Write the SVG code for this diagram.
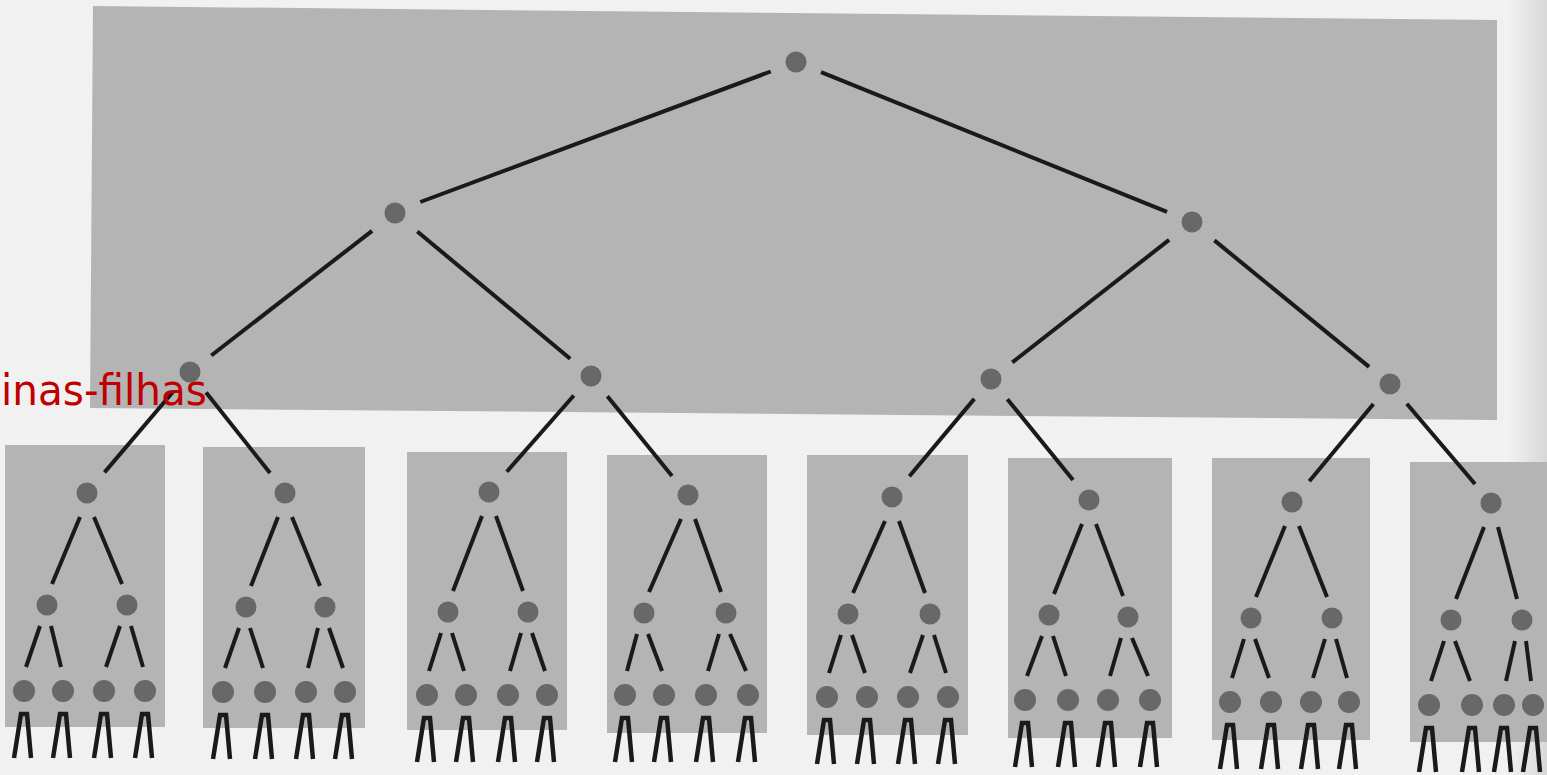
<svg xmlns="http://www.w3.org/2000/svg" width="1547" height="775" viewBox="0 0 1547 775">
<defs>
<linearGradient id="edge" x1="0" y1="0" x2="1" y2="0">
<stop offset="0" stop-color="#f3f3f3"/>
<stop offset="1" stop-color="#d8d8d8"/>
</linearGradient>
</defs>
<style>
.box{fill:#b4b4b4}
.n{fill:#686868}
.c line{stroke:#1a1a1a;stroke-width:4;stroke-linecap:butt}
.c path{fill:none;stroke:#1a1a1a;stroke-width:4.5;stroke-linejoin:miter}
.lbl{font-family:"DejaVu Sans",sans-serif;font-size:43px;fill:#c00000}
</style>
<rect x="0" y="0" width="1547" height="775" fill="#f1f1f1"/>
<rect x="1505" y="0" width="42" height="775" fill="url(#edge)"/>
<g id="boxes">
<polygon id="master-box" class="box" points="93,6 1497,20 1497,420 90,408"/>
<rect id="box1" class="box" x="5" y="445" width="160" height="282"/>
<rect id="box2" class="box" x="203" y="447" width="162" height="281"/>
<rect id="box3" class="box" x="407" y="452" width="160" height="278"/>
<rect id="box4" class="box" x="607" y="455" width="160" height="278"/>
<rect id="box5" class="box" x="807" y="455" width="161" height="280"/>
<rect id="box6" class="box" x="1008" y="458" width="164" height="280"/>
<rect id="box7" class="box" x="1212" y="458" width="158" height="282"/>
<rect id="box8" class="box" x="1410" y="462" width="137" height="280"/>
</g>
<g id="connectors" class="c">
<line x1="770.7" y1="71.5" x2="420.3" y2="202"/>
<line x1="821" y1="72.1" x2="1167" y2="211.9"/>
<line x1="372.1" y1="230.8" x2="211.3" y2="355.5"/>
<line x1="417.3" y1="231.5" x2="570.2" y2="358.7"/>
<line x1="1169.1" y1="239.9" x2="1012.3" y2="362.4"/>
<line x1="1214.4" y1="240.4" x2="1369.1" y2="366.9"/>
<line x1="173.1" y1="391.8" x2="104.5" y2="472.4"/>
<line x1="206.1" y1="392.5" x2="270" y2="473"/>
<line x1="573.8" y1="395.5" x2="506.8" y2="471.7"/>
<line x1="607.4" y1="396.2" x2="672" y2="476"/>
<line x1="974.3" y1="398.9" x2="909.4" y2="476.3"/>
<line x1="1007.4" y1="399.2" x2="1073" y2="480"/>
<line x1="1373.4" y1="404" x2="1309.3" y2="481.2"/>
<line x1="1406.8" y1="403.8" x2="1475" y2="484"/>
<!-- box1 -->
<line x1="80" y1="517" x2="52" y2="584"/><line x1="94" y1="517" x2="122" y2="584"/>
<line x1="40" y1="626" x2="26" y2="667"/><line x1="51" y1="626" x2="61" y2="667"/>
<line x1="120" y1="626" x2="106" y2="667"/><line x1="131" y1="626" x2="143" y2="667"/>
<!-- box2 -->
<line x1="278" y1="517" x2="251" y2="586"/><line x1="292" y1="517" x2="320" y2="586"/>
<line x1="239" y1="628" x2="225" y2="668"/><line x1="250" y1="628" x2="263" y2="668"/>
<line x1="318" y1="628" x2="308" y2="668"/><line x1="329" y1="628" x2="343" y2="668"/>
<!-- box3 -->
<line x1="482" y1="516" x2="453" y2="591"/><line x1="496" y1="516" x2="523" y2="591"/>
<line x1="441" y1="633" x2="429" y2="671"/><line x1="452" y1="633" x2="464" y2="671"/>
<line x1="521" y1="633" x2="510" y2="671"/><line x1="532" y1="633" x2="545" y2="671"/>
<!-- box4 -->
<line x1="681" y1="519" x2="649" y2="592"/><line x1="695" y1="519" x2="721" y2="592"/>
<line x1="637" y1="634" x2="627" y2="671"/><line x1="648" y1="634" x2="662" y2="671"/>
<line x1="719" y1="634" x2="708" y2="671"/><line x1="730" y1="634" x2="746" y2="671"/>
<!-- box5 -->
<line x1="885" y1="521" x2="853" y2="593"/><line x1="899" y1="521" x2="925" y2="593"/>
<line x1="841" y1="635" x2="829" y2="673"/><line x1="852" y1="635" x2="865" y2="673"/>
<line x1="923" y1="635" x2="910" y2="673"/><line x1="934" y1="635" x2="946" y2="673"/>
<!-- box6 -->
<line x1="1082" y1="524" x2="1054" y2="594"/><line x1="1096" y1="524" x2="1123" y2="596"/>
<line x1="1042" y1="636" x2="1027" y2="676"/><line x1="1053" y1="636" x2="1066" y2="676"/>
<line x1="1121" y1="638" x2="1110" y2="676"/><line x1="1132" y1="638" x2="1148" y2="676"/>
<!-- box7 -->
<line x1="1285" y1="526" x2="1256" y2="597"/><line x1="1299" y1="526" x2="1327" y2="597"/>
<line x1="1244" y1="639" x2="1232" y2="678"/><line x1="1255" y1="639" x2="1269" y2="678"/>
<line x1="1325" y1="639" x2="1313" y2="678"/><line x1="1336" y1="639" x2="1347" y2="678"/>
<!-- box8 -->
<line x1="1484" y1="527" x2="1456" y2="599"/><line x1="1498" y1="527" x2="1517" y2="599"/>
<line x1="1444" y1="641" x2="1431" y2="681"/><line x1="1455" y1="641" x2="1470" y2="681"/>
<line x1="1515" y1="641" x2="1506" y2="681"/><line x1="1526" y1="641" x2="1531" y2="681"/>
<!-- leaf outputs -->
<path d="M14,758 L21,714 L27,714 L31,758 M53,758 L60,714 L66,714 L70,758 M94,758 L101,714 L107,714 L111,758 M135,758 L142,714 L148,714 L152,758"/>
<path d="M213,759 L220,715 L226,715 L230,759 M255,759 L262,715 L268,715 L272,759 M296,759 L303,715 L309,715 L313,759 M335,759 L342,715 L348,715 L352,759"/>
<path d="M417,762 L424,718 L430,718 L434,762 M456,762 L463,718 L469,718 L473,762 M498,762 L505,718 L511,718 L515,762 M537,762 L544,718 L550,718 L554,762"/>
<path d="M615,762 L622,718 L628,718 L632,762 M654,762 L661,718 L667,718 L671,762 M696,762 L703,718 L709,718 L713,762 M738,762 L745,718 L751,718 L755,762"/>
<path d="M817,764 L824,720 L830,720 L834,764 M857,764 L864,720 L870,720 L874,764 M898,764 L905,720 L911,720 L915,764 M938,764 L945,720 L951,720 L955,764"/>
<path d="M1015,767 L1022,723 L1028,723 L1032,767 M1058,767 L1065,723 L1071,723 L1075,767 M1098,767 L1105,723 L1111,723 L1115,767 M1140,767 L1147,723 L1153,723 L1157,767"/>
<path d="M1220,769 L1227,725 L1233,725 L1237,769 M1261,769 L1268,725 L1274,725 L1278,769 M1301,769 L1308,725 L1314,725 L1318,769 M1339,769 L1346,725 L1352,725 L1356,769"/>
<path d="M1419,772 L1426,728 L1432,728 L1436,772 M1462,772 L1469,728 L1475,728 L1479,772 M1494,772 L1501,728 L1507,728 L1511,772 M1523,772 L1530,728 L1536,728 L1540,772"/>
</g>
<g id="nodes">
<circle id="n0" class="n" cx="796" cy="62" r="10.5"/>
<circle id="n1" class="n" cx="395" cy="213" r="10.5"/>
<circle id="n2" class="n" cx="1192" cy="222" r="10.5"/>
<circle id="n3" class="n" cx="190" cy="372" r="10.5"/>
<circle id="n4" class="n" cx="591" cy="376" r="10.5"/>
<circle id="n5" class="n" cx="991" cy="379" r="10.5"/>
<circle id="n6" class="n" cx="1390" cy="384" r="10.5"/>
<g id="tree1">
<circle class="n" cx="87" cy="493" r="10.5"/>
<circle class="n" cx="47" cy="605" r="10.5"/><circle class="n" cx="127" cy="605" r="10.5"/>
<circle class="n" cx="24" cy="691" r="11"/><circle class="n" cx="63" cy="691" r="11"/><circle class="n" cx="104" cy="691" r="11"/><circle class="n" cx="145" cy="691" r="11"/>
</g>
<g id="tree2">
<circle class="n" cx="285" cy="493" r="10.5"/>
<circle class="n" cx="246" cy="607" r="10.5"/><circle class="n" cx="325" cy="607" r="10.5"/>
<circle class="n" cx="223" cy="692" r="11"/><circle class="n" cx="265" cy="692" r="11"/><circle class="n" cx="306" cy="692" r="11"/><circle class="n" cx="345" cy="692" r="11"/>
</g>
<g id="tree3">
<circle class="n" cx="489" cy="492" r="10.5"/>
<circle class="n" cx="448" cy="612" r="10.5"/><circle class="n" cx="528" cy="612" r="10.5"/>
<circle class="n" cx="427" cy="695" r="11"/><circle class="n" cx="466" cy="695" r="11"/><circle class="n" cx="508" cy="695" r="11"/><circle class="n" cx="547" cy="695" r="11"/>
</g>
<g id="tree4">
<circle class="n" cx="688" cy="495" r="10.5"/>
<circle class="n" cx="644" cy="613" r="10.5"/><circle class="n" cx="726" cy="613" r="10.5"/>
<circle class="n" cx="625" cy="695" r="11"/><circle class="n" cx="664" cy="695" r="11"/><circle class="n" cx="706" cy="695" r="11"/><circle class="n" cx="748" cy="695" r="11"/>
</g>
<g id="tree5">
<circle class="n" cx="892" cy="497" r="10.5"/>
<circle class="n" cx="848" cy="614" r="10.5"/><circle class="n" cx="930" cy="614" r="10.5"/>
<circle class="n" cx="827" cy="697" r="11"/><circle class="n" cx="867" cy="697" r="11"/><circle class="n" cx="908" cy="697" r="11"/><circle class="n" cx="948" cy="697" r="11"/>
</g>
<g id="tree6">
<circle class="n" cx="1089" cy="500" r="10.5"/>
<circle class="n" cx="1049" cy="615" r="10.5"/><circle class="n" cx="1128" cy="617" r="10.5"/>
<circle class="n" cx="1025" cy="700" r="11"/><circle class="n" cx="1068" cy="700" r="11"/><circle class="n" cx="1108" cy="700" r="11"/><circle class="n" cx="1150" cy="700" r="11"/>
</g>
<g id="tree7">
<circle class="n" cx="1292" cy="502" r="10.5"/>
<circle class="n" cx="1251" cy="618" r="10.5"/><circle class="n" cx="1332" cy="618" r="10.5"/>
<circle class="n" cx="1230" cy="702" r="11"/><circle class="n" cx="1271" cy="702" r="11"/><circle class="n" cx="1311" cy="702" r="11"/><circle class="n" cx="1349" cy="702" r="11"/>
</g>
<g id="tree8">
<circle class="n" cx="1491" cy="503" r="10.5"/>
<circle class="n" cx="1451" cy="620" r="10.5"/><circle class="n" cx="1522" cy="620" r="10.5"/>
<circle class="n" cx="1429" cy="705" r="11"/><circle class="n" cx="1472" cy="705" r="11"/><circle class="n" cx="1504" cy="705" r="11"/><circle class="n" cx="1533" cy="705" r="11"/>
</g>
</g>
<g id="label">
<text class="lbl" x="1" y="405" textLength="206" lengthAdjust="spacingAndGlyphs">inas-filhas</text>
</g>
</svg>
